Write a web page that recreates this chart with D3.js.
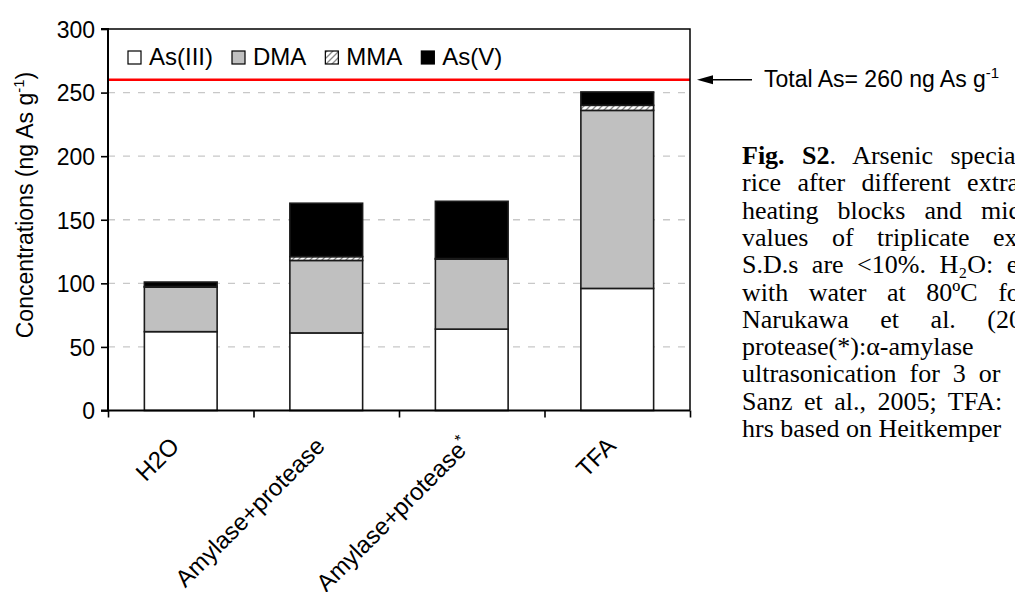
<!DOCTYPE html>
<html>
<head>
<meta charset="utf-8">
<script src="https://cdn.jsdelivr.net/npm/d3@7"></script>
<style>
body { margin: 0; overflow: hidden; background: #fff; }
svg { display: block; }
</style>
</head>
<body>
<div id="chart"></div>
<script>
// data (ng As g-1)
var categories = ["H2O", "Amylase+protease", "Amylase+protease*", "TFA"];
var species = ["As(III)", "DMA", "MMA", "As(V)"];
var asIII = [62, 61, 64, 96];
var dma = [35, 57, 55, 140];
var mma = [0.5, 3, 0.5, 4];
var asV = [3.5, 42, 45, 10.5];
var totalAs = 260;
var yTicks = [0, 50, 100, 150, 200, 250, 300];
var gridTicks = [50, 100, 150, 200, 250];

var captionLines = [
    "Fig. S2. Arsenic speciation in",
    "rice after different extraction methods by",
    "heating blocks and microwave. Mean",
    "values of triplicate extractions, the",
    "S.D.s are <10%. H\u2082O: extraction",
    "with water at 80\u00BAC for 1 hr based on",
    "Narukawa et al. (2008); Amylase+",
    "protease(*):\u03B1-amylase",
    "ultrasonication for 3 or",
    "Sanz et al., 2005; TFA:",
    "hrs based on Heitkemper"
];
// extra word spacing per caption line (justified text in the original)
var captionSpacing = [11, 10, 12.5, 17, 7, 14, 25, 0, 6.5, 5, 0];

var width = 1015,
    height = 592,
    margin = { top: 29, left: 108 },
    innerWidth = 582,
    innerHeight = 381.5;

var svg = d3.select("#chart")
    .append("svg")
    .attr("width", width)
    .attr("height", height);

var defs = svg.append("defs");
var hatch = defs.append("pattern")
    .attr("id", "hatch")
    .attr("patternUnits", "userSpaceOnUse")
    .attr("width", 6)
    .attr("height", 6);
hatch.append("rect").attr("width", 6).attr("height", 6).attr("fill", "#fff");
hatch.append("path")
    .attr("d", "M-1,7 L7,-1 M-4,4 L4,-4 M2,10 L10,2")
    .attr("stroke", "#8a8a8a")
    .attr("stroke-width", 1.3);

var colors = ["#fff", "#c0c0c0", "url(#hatch)", "#000"];

var x = d3.scaleBand()
    .domain(categories)
    .range([margin.left, margin.left + innerWidth])
    .paddingInner(0.5)
    .paddingOuter(0.25);

var xEdge = d3.scaleLinear()
    .domain([0, categories.length])
    .range([margin.left, margin.left + innerWidth]);

var y = d3.scaleLinear()
    .domain([0, 300])
    .range([margin.top + innerHeight, margin.top]);

// grid
svg.append("g")
    .selectAll("line")
    .data(gridTicks)
    .enter()
    .append("line")
    .attr("x1", margin.left)
    .attr("x2", margin.left + innerWidth)
    .attr("y1", d => y(d))
    .attr("y2", d => y(d))
    .attr("stroke", "#c8c8c8")
    .attr("stroke-width", 1.3)
    .attr("stroke-dasharray", "7,8");

// stacked bars
var table = categories.map(function (c, i) {
    return { cat: c, "As(III)": asIII[i], "DMA": dma[i], "MMA": mma[i], "As(V)": asV[i] };
});
var stack = d3.stack().keys(species)(table);

svg.append("g")
    .selectAll("g")
    .data(stack)
    .enter()
    .append("g")
    .attr("fill", (d, i) => colors[i])
    .selectAll("rect")
    .data(d => d)
    .enter()
    .append("rect")
    .attr("x", d => x(d.data.cat))
    .attr("width", x.bandwidth())
    .attr("y", d => y(d[1]))
    .attr("height", d => y(d[0]) - y(d[1]))
    .attr("stroke", "#1a1a1a")
    .attr("stroke-width", 1.6);

// total As line
svg.append("line")
    .attr("x1", margin.left)
    .attr("x2", margin.left + innerWidth)
    .attr("y1", y(totalAs))
    .attr("y2", y(totalAs))
    .attr("stroke", "#ff0000")
    .attr("stroke-width", 2.5);

// frame
svg.append("path")
    .attr("d", `M${margin.left},${margin.top}H${margin.left + innerWidth}V${margin.top + innerHeight}`)
    .attr("fill", "none")
    .attr("stroke", "#000")
    .attr("stroke-width", 1.5);

// y axis
var yAxis = d3.axisLeft(y)
    .tickValues(yTicks)
    .tickSize(7)
    .tickPadding(6);
var gy = svg.append("g")
    .attr("transform", `translate(${margin.left},0)`)
    .call(yAxis);
gy.select(".domain").attr("stroke-width", 2).attr("d", `M-7,${margin.top}H0V${margin.top + innerHeight}`);
gy.selectAll(".tick line").attr("stroke-width", 1.6);
gy.selectAll("text")
    .style("font-family", "Liberation Sans, Arial, sans-serif")
    .style("font-size", "23px")
    .attr("fill", "#000")
    .attr("dy", "0.36em");

// x axis
var xAxis = d3.axisBottom(xEdge)
    .tickValues(d3.range(categories.length + 1))
    .tickSize(7)
    .tickFormat("");
var gx = svg.append("g")
    .attr("transform", `translate(0,${margin.top + innerHeight})`)
    .call(xAxis);
gx.select(".domain").attr("stroke-width", 2).attr("d", `M${margin.left - 7},0H${margin.left + innerWidth}`);
gx.selectAll(".tick line").attr("stroke-width", 1.6);

svg.append("g")
    .selectAll("text")
    .data(categories)
    .enter()
    .append("text")
    .attr("transform", d => `translate(${x(d) + x.bandwidth() / 2},${margin.top + innerHeight + 37}) rotate(-45)`)
    .attr("text-anchor", "end")
    .style("font-family", "Liberation Sans, Arial, sans-serif")
    .style("font-size", "24px")
    .each(function (d) {
        var t = d3.select(this);
        if (d.slice(-1) == "*") {
            t.append("tspan").text(d.slice(0, -1));
            t.append("tspan").attr("dy", -9).style("font-size", "16px").text("*");
        } else {
            t.text(d);
        }
    });

// y title
var ytitle = svg.append("text")
    .attr("transform", "translate(33,205) rotate(-90)")
    .attr("text-anchor", "middle")
    .style("font-family", "Liberation Sans, Arial, sans-serif")
    .style("font-size", "23px");
ytitle.append("tspan").text("Concentrations (ng As g");
ytitle.append("tspan").attr("dy", -9).style("font-size", "15px").text("-1");
ytitle.append("tspan").attr("dy", 9).text(")");

// legend
var legend = svg.append("g")
    .style("font-family", "Liberation Sans, Arial, sans-serif")
    .style("font-size", "24px");
var lx = 128;
species.forEach(function (s, i) {
    legend.append("rect")
        .attr("x", lx)
        .attr("y", 51)
        .attr("width", 13)
        .attr("height", 13)
        .attr("fill", colors[i])
        .attr("stroke", "#000")
        .attr("stroke-width", 1.2);
    var t = legend.append("text")
        .attr("x", lx + 21)
        .attr("y", 65)
        .text(s);
    lx += 21 + t.node().getComputedTextLength() + 19;
});

// total As annotation
svg.append("line")
    .attr("x1", 752)
    .attr("x2", 710)
    .attr("y1", y(totalAs))
    .attr("y2", y(totalAs))
    .attr("stroke", "#000")
    .attr("stroke-width", 1.5);
svg.append("path")
    .attr("d", `M697,${y(totalAs)}L713,${y(totalAs) - 4.5}L713,${y(totalAs) + 4.5}Z`)
    .attr("fill", "#000");
var tot = svg.append("text")
    .attr("x", 764)
    .attr("y", 87)
    .style("font-family", "Liberation Sans, Arial, sans-serif")
    .style("font-size", "23px");
tot.append("tspan").text("Total As= " + totalAs + " ng As g");
tot.append("tspan").attr("dy", -9).style("font-size", "15px").text("-1");

// caption
var cap = svg.append("g")
    .style("font-family", "Liberation Serif, 'Times New Roman', serif")
    .style("font-size", "26px");
captionLines.forEach(function (line, i) {
    var t = cap.append("text")
        .attr("x", 742)
        .attr("y", 164 + i * 27.3)
        .style("word-spacing", captionSpacing[i] + "px");
    if (i == 0) {
        t.append("tspan").style("font-weight", "bold").text("Fig. S2");
        t.append("tspan").text(line.slice(7));
    } else {
        t.text(line);
    }
});
</script>
</body>
</html>
